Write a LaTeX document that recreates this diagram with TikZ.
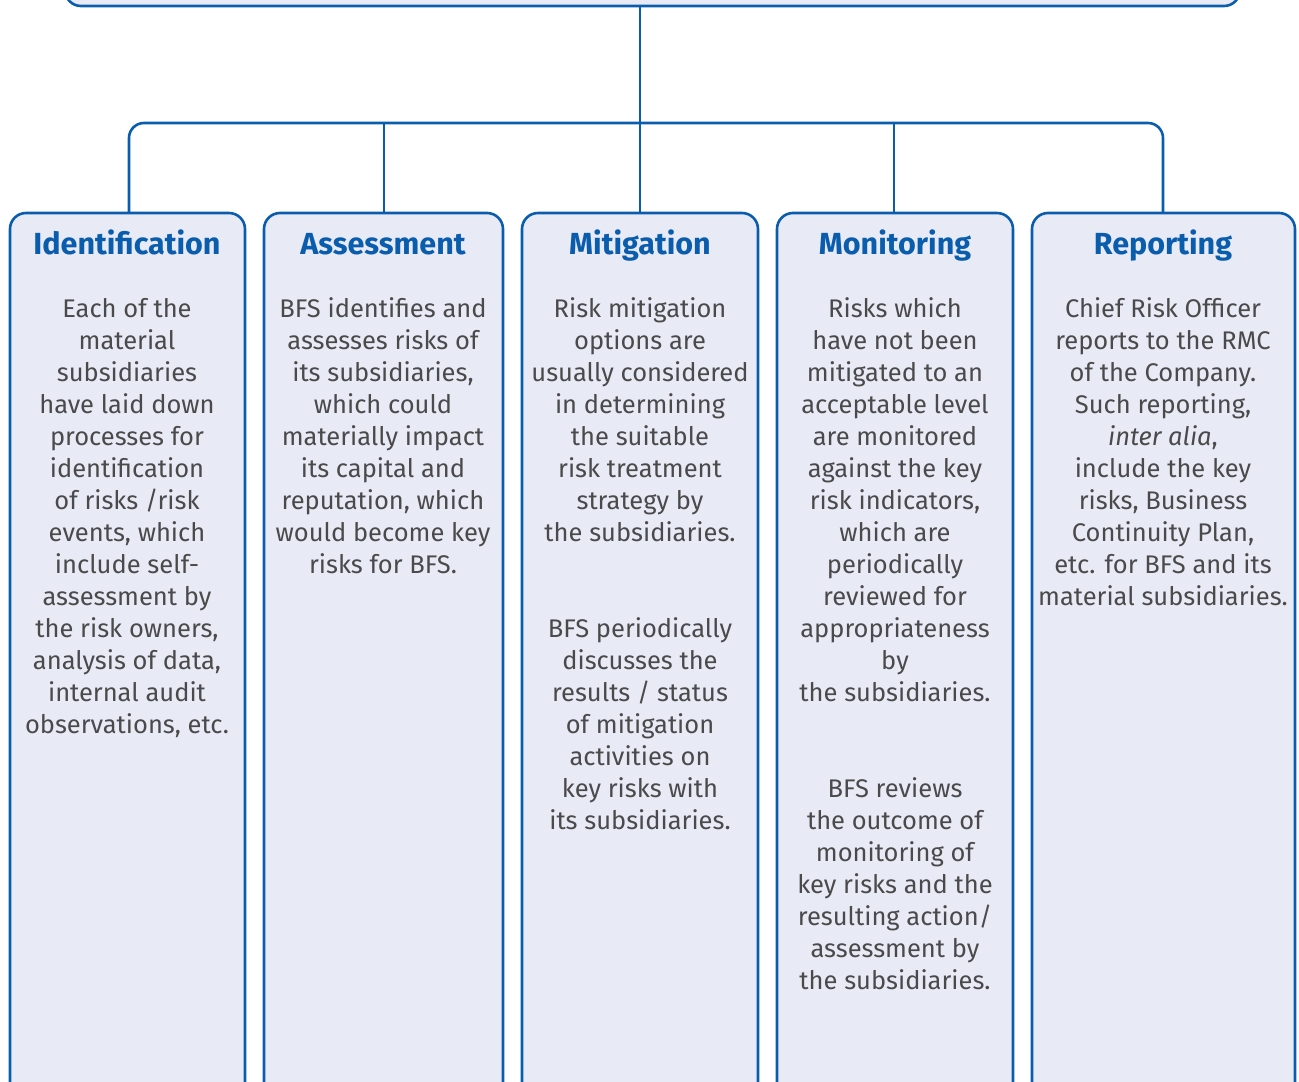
\documentclass[tikz,border=0pt]{standalone}
\usepackage{fontspec}
\setmainfont{Fira Sans}
\definecolor{bblue}{HTML}{0A5DAC}
\definecolor{bfill}{HTML}{E8EAF6}
\definecolor{btext}{HTML}{4A4A4A}
\begin{document}
\begin{tikzpicture}[x=1pt,y=-1pt,
  panel/.style={draw=bblue,line width=2.6pt,fill=bfill,rounded corners=16pt},
  link/.style={draw=bblue,line width=2.6pt},
  ttl/.style={anchor=base,inner sep=0pt,text=bblue,font=\fontsize{30.5}{36}\selectfont\bfseries},
  body/.style={anchor=north,inner sep=0pt,text=btext,align=center,font=\fontsize{25.5}{32}\selectfont}]
\useasboundingbox (0,0) rectangle (1299,1082);
\begin{scope}
\clip (0,0) rectangle (1299,1082);
\draw[panel] (65,-40) rectangle (1240,6);
\coordinate (topc) at (640,6);
\draw[panel] (10,213) rectangle (245,1110);
\draw[panel] (264,213) rectangle (503,1110);
\draw[panel] (522,213) rectangle (758,1110);
\draw[panel] (777,213) rectangle (1013,1110);
\draw[panel] (1032,213) rectangle (1295,1110);
\end{scope}
\coordinate (b1) at (129,213);
\coordinate (b2) at (384,213);
\coordinate (b3) at (640,213);
\coordinate (b4) at (894,213);
\coordinate (b5) at (1163,213);
\coordinate (hub) at (640,123);
\draw[link] (topc) -- (b3);
\draw[link,rounded corners=15pt] (b1) -- (129,123) -- (1163,123) -- (b5);
\draw[link] (b2) -- (384,123);
\draw[link] (b4) -- (894,123);

\node[ttl] (t1) at (127,254) {Identification};
\node[ttl] (t2) at (383,254) {Assessment};
\node[ttl] (t3) at (640,254) {Mitigation};
\node[ttl] (t4) at (895,254) {Monitoring};
\node[ttl] (t5) at (1163,254) {Reporting};

\node[body] (p1) at (127,294.6) {\strut Each of the\\material\\subsidiaries\\have laid down\\processes for\\identification\\of risks /risk\\events, which\\include self-\\assessment by\\the risk owners,\\analysis of data,\\internal audit\\observations, etc.};
\node[body] (p2) at (383,294.6) {\strut BFS identifies and\\assesses risks of\\its subsidiaries,\\which could\\materially impact\\its capital and\\reputation, which\\would become key\\risks for BFS.};
\node[body] (p3) at (640,294.6) {\strut Risk mitigation\\options are\\usually considered\\in determining\\the suitable\\risk treatment\\strategy by\\the subsidiaries.};
\node[body] (p3b) at (640,614.6) {\strut BFS periodically\\discusses the\\results / status\\of mitigation\\activities on\\key risks with\\its subsidiaries.};
\node[body] (p4) at (895,294.6) {\strut Risks which\\have not been\\mitigated to an\\acceptable level\\are monitored\\against the key\\risk indicators,\\which are\\periodically\\reviewed for\\appropriateness\\by\\the subsidiaries.};
\node[body] (p4b) at (895,774.6) {\strut BFS reviews\\the outcome of\\monitoring of\\key risks and the\\resulting action/\\assessment by\\the subsidiaries.};
\node[body] (p5) at (1163,294.6) {\strut Chief Risk Officer\\reports to the RMC\\of the Company.\\Such reporting,\\\textit{inter alia},\\include the key\\risks, Business\\Continuity Plan,\\etc. for BFS and its\\material subsidiaries.};
\end{tikzpicture}
\end{document}
